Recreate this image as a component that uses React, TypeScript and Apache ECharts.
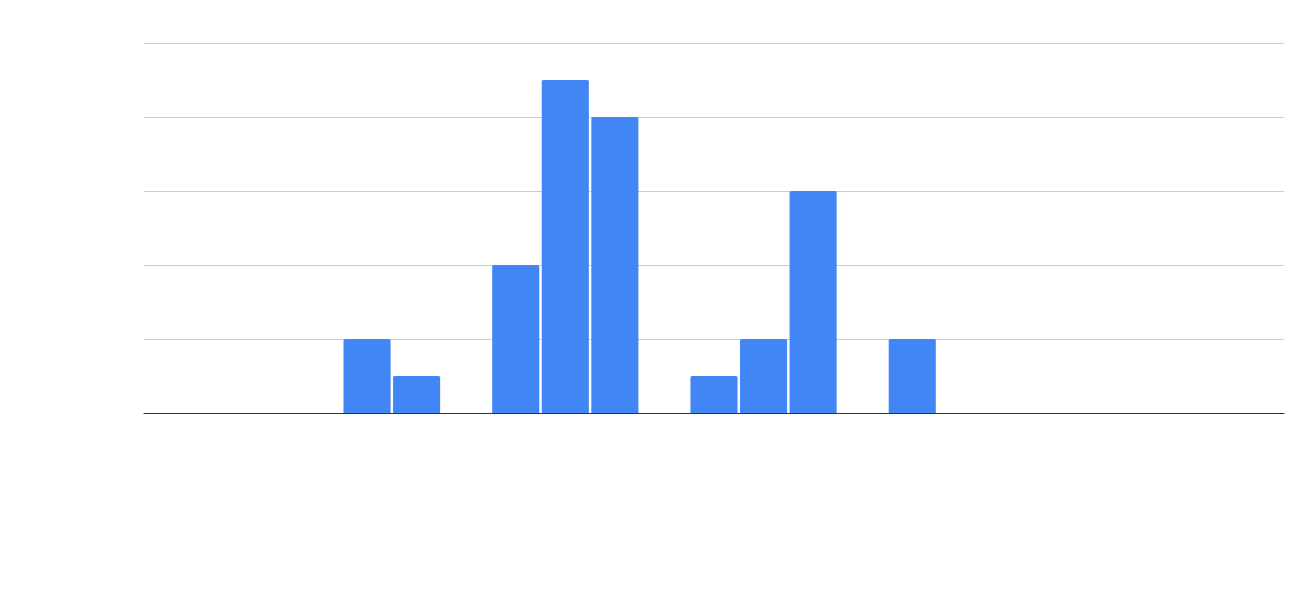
import React, { useEffect, useRef } from "react";
import * as echarts from "echarts";

const categories: string[] = [
  "1", "2", "3", "4", "5", "6", "7", "8", "9", "10", "11", "12",
  "13", "14", "15", "16", "17", "18", "19", "20", "21", "22", "23",
];
const counts: (number | null)[] = [
  0, 0, 0, 0, 2, 1, 0, 4, 9, 8, 0, 1, 2, 6, 0, 2, 0, 0, 0, 0, 0, 0, 0,
];
const yMax = 10;
const yInterval = 2;

export default function App() {
  const ref = useRef<HTMLDivElement>(null);
  useEffect(() => {
    document.body.style.margin = "0";
    if (!ref.current) return;
    const chart = echarts.init(ref.current, undefined, { renderer: "svg" });
    chart.setOption({
      animation: false,
      backgroundColor: "#ffffff",
      grid: { left: 144, right: 29, top: 43, bottom: 178, containLabel: false },
      xAxis: {
        type: "category",
        data: categories,
        axisLine: { show: true, lineStyle: { color: "#333333", width: 1 } },
        axisTick: { show: false },
        axisLabel: { show: false },
        splitLine: { show: false },
      },
      yAxis: {
        type: "value",
        min: 0,
        max: yMax,
        interval: yInterval,
        axisLine: { show: false },
        axisTick: { show: false },
        axisLabel: { show: false },
        splitLine: { show: true, lineStyle: { color: "#cccccc", width: 1 } },
      },
      series: [
        {
          type: "bar",
          data: counts,
          barCategoryGap: "5%",
          itemStyle: { color: "#4285f4", borderRadius: [1.5, 1.5, 0, 0] },
        },
      ],
    });
    return () => chart.dispose();
  }, []);
  return <div ref={ref} style={{ width: 1313, height: 591 }} />;
}
